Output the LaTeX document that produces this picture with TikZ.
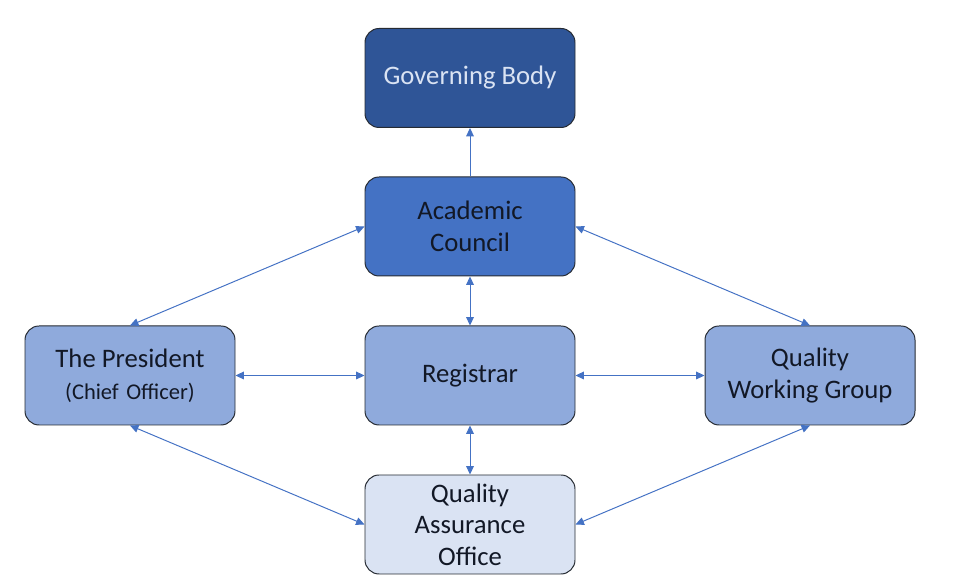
\documentclass[tikz,border=0pt]{standalone}
\usepackage{fontspec}
\setmainfont{Carlito}
\usetikzlibrary{arrows.meta,positioning}
\definecolor{OrgDark}{HTML}{2F5597}
\definecolor{OrgMid}{HTML}{4472C4}
\definecolor{OrgLight}{HTML}{8FAADC}
\definecolor{OrgPale}{HTML}{DAE3F3}
\definecolor{OrgEdge}{HTML}{262B33}
\definecolor{OrgText}{HTML}{121826}

\begin{document}
\begin{tikzpicture}[
    unit/.style={
      draw=OrgEdge,
      line width=0.7pt,
      minimum width=5.25cm,
      minimum height=2.475cm,
      rounded corners=10pt,
      align=center,
      text=OrgText,
      font=\fontsize{19}{22.5}\selectfont
    },
    top/.style={unit, fill=OrgDark, text=OrgPale},
    council/.style={unit, fill=OrgMid},
    office/.style={unit, fill=OrgLight},
    qa/.style={unit, fill=OrgPale},
    link/.style={
      line width=0.7pt,
      color=OrgMid,
      {Triangle[length=6pt,width=5.5pt]}-{Triangle[length=6pt,width=5.5pt]}
    },
    report/.style={
      line width=0.7pt,
      color=OrgMid,
      -{Triangle[length=6pt,width=5.5pt]}
    }
  ]
  \useasboundingbox (0,0) rectangle (23.9,14.675);

  % Top bodies
  \node[top] (gb) at (11.75,12.725) {Governing Body};
  \node[council] (ac) at (11.75,9.0125) {Academic\\Council};

  % Middle row
  \node[office] (reg) at (11.75,5.2875) {Registrar};
  \node[office] (pres) at (3.25,5.2875)
    {The President\\{\fontsize{16}{19}\selectfont(Chief\,\,Officer)}};
  \node[office] (qwg) at (20.25,5.2875) {Quality\\Working Group};

  % Bottom
  \node[qa] (qao) at (11.75,1.5625) {Quality\\Assurance\\Office};

  % Links
  \draw[report] (ac) -- (gb);
  \draw[link] (ac) -- (reg);
  \draw[link] (reg) -- (qao);
  \draw[link] (pres) -- (reg);
  \draw[link] (reg) -- (qwg);
  \draw[link] (ac.west) -- (pres.north);
  \draw[link] (ac.east) -- (qwg.north);
  \draw[link] (pres.south) -- (qao.west);
  \draw[link] (qwg.south) -- (qao.east);

\end{tikzpicture}
\end{document}
